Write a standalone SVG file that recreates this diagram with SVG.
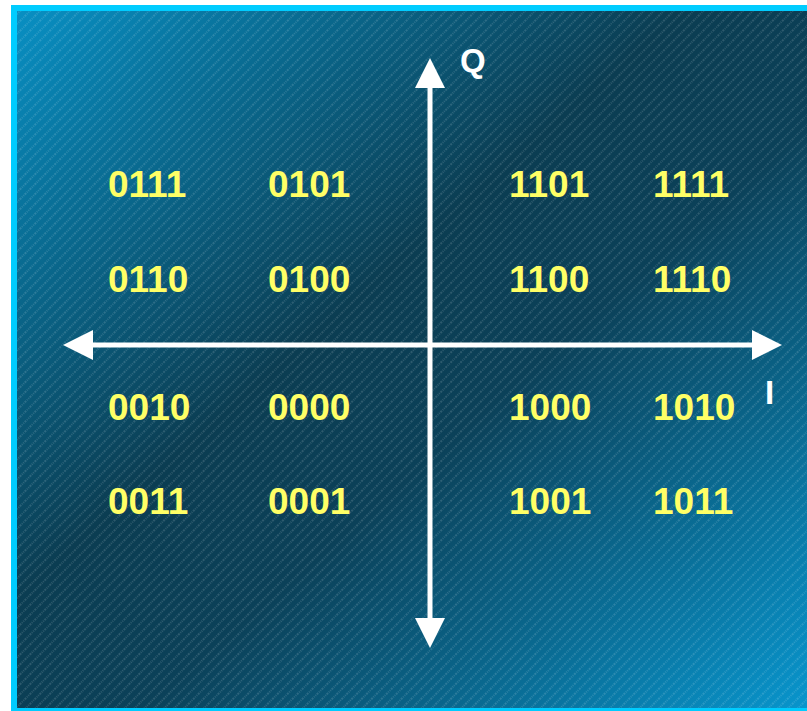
<svg xmlns="http://www.w3.org/2000/svg" width="807" height="711" viewBox="0 0 807 711">
<defs>
<linearGradient id="bg" x1="0" y1="0" x2="1" y2="1">
<stop offset="0" stop-color="#0890c4"/>
<stop offset="0.42" stop-color="#0b3d52"/>
<stop offset="0.58" stop-color="#0b4159"/>
<stop offset="1" stop-color="#0896ce"/>
</linearGradient>
<pattern id="hatch" width="7" height="7" patternUnits="userSpaceOnUse" patternTransform="rotate(45)">
<line x1="1" y1="0" x2="1" y2="7" stroke="#ffffff" stroke-opacity="0.28" stroke-width="1" stroke-dasharray="1 1"/>
</pattern>
<marker id="ah" viewBox="0 0 30 30" refX="0" refY="15" markerWidth="30" markerHeight="30" markerUnits="userSpaceOnUse" orient="auto">
<path d="M0,0 L30,15 L0,30 Z" fill="#ffffff"/>
</marker>
</defs>
<style>
.lbl{font-family:"Liberation Sans",Arial,sans-serif;font-weight:bold;font-size:37px;fill:#ffff66}
.ax{font-family:"Liberation Sans",Arial,sans-serif;font-weight:bold;font-size:33px;fill:#ffffff}
.axis{stroke:#ffffff;stroke-width:5;fill:none}
</style>
<rect x="14" y="8" width="800" height="703" fill="url(#bg)"/>
<rect x="14" y="8" width="800" height="703" fill="url(#hatch)"/>
<rect x="14" y="8" width="800" height="703" fill="none" stroke="#00ccff" stroke-width="6"/>
<g id="connectors">
<line class="axis" x1="430" y1="345" x2="430" y2="88" marker-end="url(#ah)"/>
<line class="axis" x1="430" y1="345" x2="430" y2="618" marker-end="url(#ah)"/>
<line class="axis" x1="430" y1="345" x2="93" y2="345" marker-end="url(#ah)"/>
<line class="axis" x1="430" y1="345" x2="752" y2="345" marker-end="url(#ah)"/>
</g>
<g id="axis-Q"><text class="ax" x="460" y="72">Q</text></g>
<g id="axis-I"><text class="ax" x="765" y="404">I</text></g>
<g id="p0111"><text class="lbl" x="108" y="197">0111</text></g>
<g id="p0101"><text class="lbl" x="268" y="197">0101</text></g>
<g id="p1101"><text class="lbl" x="509" y="197">1101</text></g>
<g id="p1111"><text class="lbl" x="653" y="197">1111</text></g>
<g id="p0110"><text class="lbl" x="108" y="292">0110</text></g>
<g id="p0100"><text class="lbl" x="268" y="292">0100</text></g>
<g id="p1100"><text class="lbl" x="509" y="292">1100</text></g>
<g id="p1110"><text class="lbl" x="653" y="292">1110</text></g>
<g id="p0010"><text class="lbl" x="108" y="420">0010</text></g>
<g id="p0000"><text class="lbl" x="268" y="420">0000</text></g>
<g id="p1000"><text class="lbl" x="509" y="420">1000</text></g>
<g id="p1010"><text class="lbl" x="653" y="420">1010</text></g>
<g id="p0011"><text class="lbl" x="108" y="514">0011</text></g>
<g id="p0001"><text class="lbl" x="268" y="514">0001</text></g>
<g id="p1001"><text class="lbl" x="509" y="514">1001</text></g>
<g id="p1011"><text class="lbl" x="653" y="514">1011</text></g>
</svg>
